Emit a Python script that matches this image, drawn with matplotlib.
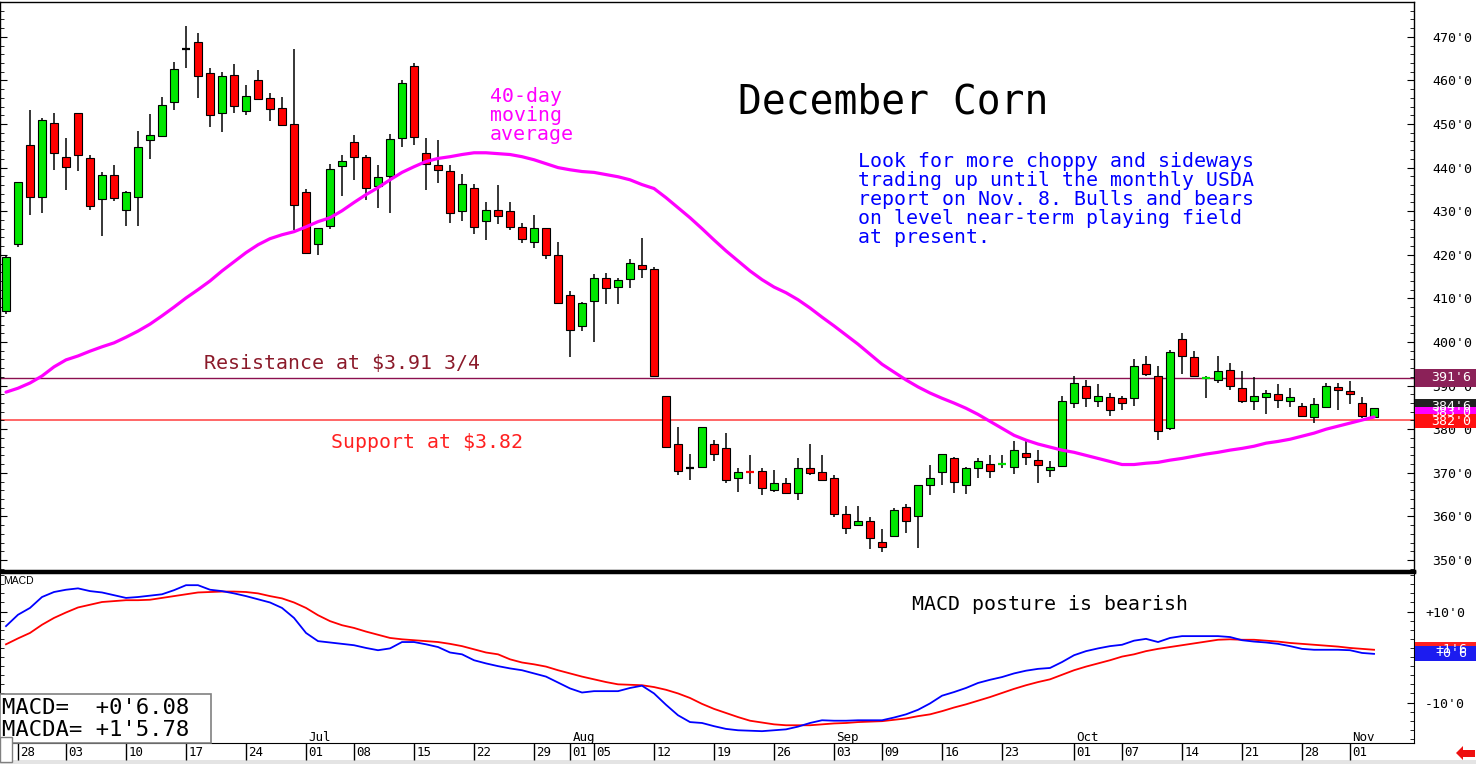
import matplotlib
matplotlib.use("Agg")
import matplotlib.pyplot as plt
import matplotlib.transforms as mtransforms
from matplotlib.patches import Rectangle, Polygon
from matplotlib.ticker import MultipleLocator, FixedLocator

# daily bars, index 0 = May 28 2019 (first, partly hidden bar is May 24)
opens = [
    407.1, 422.5, 445.2, 433.3, 450.3, 442.5, 452.6, 442.2, 432.8, 438.2,
    430.3, 433.3, 446.4, 447.3, 455.1, 467.3, 468.7, 461.8, 452.6, 461.3,
    453.0, 460.1, 456.0, 453.7, 450.0, 434.4, 422.5, 426.6, 440.4, 445.9,
    442.5, 435.8, 438.1, 446.8, 463.2, 443.4, 440.6, 439.2, 430.0, 435.3,
    427.7, 430.3, 430.0, 426.4, 422.9, 426.1, 419.9, 410.7, 403.6, 409.4,
    414.6, 412.6, 414.4, 417.6, 416.7, 387.6, 376.5, 371.0, 371.4, 376.5,
    375.8, 368.7, 370.3, 370.5, 366.1, 367.7, 365.4, 371.0, 370.3, 368.9,
    360.6, 358.1, 359.0, 354.2, 355.6, 362.2, 360.2, 367.1, 370.3, 373.5,
    367.3, 371.0, 372.1, 371.9, 371.4, 374.6, 373.0, 370.7, 371.5, 386.1,
    390.0, 386.4, 387.5, 387.1, 387.1, 394.9, 392.1, 380.2, 400.6, 396.5,
    391.6, 391.2, 393.5, 389.4, 386.4, 387.3, 388.0, 386.4, 385.4, 382.9,
    385.2, 389.6, 388.7, 386.1, 382.7,
]
highs = [
    420.0, 436.7, 453.3, 451.3, 452.6, 446.7, 452.6, 443.0, 439.0, 440.7,
    434.7, 448.3, 452.2, 456.1, 464.3, 472.5, 470.8, 462.8, 461.9, 463.8,
    458.9, 462.3, 457.0, 456.1, 467.3, 435.1, 426.1, 440.9, 442.9, 447.4,
    442.9, 440.5, 447.7, 460.0, 464.1, 446.7, 446.4, 440.5, 438.5, 436.3,
    432.2, 436.1, 432.0, 427.3, 429.1, 426.1, 422.9, 411.7, 409.1, 415.6,
    415.8, 414.6, 419.1, 423.8, 417.2, 387.6, 380.5, 374.3, 380.4, 377.6,
    379.2, 371.0, 374.0, 371.0, 370.7, 368.7, 373.3, 376.6, 374.0, 369.6,
    362.5, 362.3, 359.8, 357.2, 362.0, 362.9, 367.1, 371.7, 374.2, 373.7,
    371.4, 373.3, 374.0, 374.0, 377.2, 377.2, 375.3, 372.6, 387.7, 392.2,
    391.2, 390.3, 388.4, 387.7, 396.0, 396.7, 394.4, 398.1, 402.0, 397.9,
    392.1, 396.7, 395.1, 393.3, 391.9, 388.9, 390.3, 389.4, 385.9, 387.1,
    390.7, 390.5, 391.0, 387.3, 384.75,
]
lows = [
    406.5, 421.7, 429.2, 429.7, 439.5, 434.8, 439.2, 430.2, 424.2, 432.3,
    426.5, 426.7, 442.0, 447.3, 453.3, 462.9, 455.9, 449.3, 448.1, 452.6,
    452.1, 455.8, 450.7, 449.5, 425.6, 420.2, 419.9, 425.9, 433.6, 437.1,
    432.6, 430.7, 429.6, 444.8, 445.1, 434.8, 436.5, 427.3, 427.7, 424.7,
    423.3, 427.1, 425.8, 422.8, 421.5, 419.0, 408.9, 396.6, 402.5, 400.1,
    408.7, 408.7, 412.3, 414.6, 392.1, 375.6, 369.5, 368.4, 371.0, 372.8,
    367.7, 365.7, 367.5, 365.0, 365.7, 365.2, 363.8, 369.6, 368.2, 359.8,
    356.0, 357.9, 352.6, 351.9, 355.3, 356.3, 352.8, 365.0, 367.1, 365.4,
    365.2, 368.9, 368.9, 371.0, 369.8, 371.7, 367.7, 369.1, 371.3, 384.8,
    385.0, 385.0, 383.1, 384.5, 385.4, 392.3, 377.6, 379.9, 392.6, 391.9,
    387.1, 390.7, 389.1, 385.9, 384.5, 383.4, 384.8, 385.2, 382.7, 381.5,
    384.8, 384.3, 385.7, 382.5, 382.7,
]
closes = [
    419.5, 436.7, 433.3, 451.0, 443.4, 440.2, 442.9, 431.3, 438.2, 433.0,
    434.4, 444.8, 447.5, 454.4, 462.5, 467.3, 461.1, 452.1, 460.9, 454.2,
    456.5, 455.8, 453.5, 449.7, 431.4, 420.4, 426.1, 439.7, 441.5, 442.5,
    435.3, 437.9, 446.6, 459.5, 447.1, 440.9, 439.5, 429.6, 436.3, 426.4,
    430.3, 428.9, 426.4, 423.6, 426.1, 419.9, 409.0, 402.7, 408.9, 414.6,
    412.3, 414.2, 418.1, 416.7, 392.1, 376.0, 370.5, 371.0, 380.4, 374.2,
    368.4, 370.3, 370.2, 366.6, 367.7, 365.4, 371.2, 370.0, 368.4, 360.6,
    357.4, 359.0, 355.1, 353.0, 361.5, 359.0, 367.1, 368.7, 374.2, 368.0,
    371.2, 372.6, 370.5, 372.0, 375.3, 373.7, 371.7, 371.4, 386.4, 390.7,
    387.1, 387.7, 384.5, 386.1, 394.4, 392.6, 379.5, 397.6, 396.7, 392.3,
    391.7, 393.3, 390.0, 386.4, 387.7, 388.2, 386.6, 387.3, 383.1, 385.7,
    390.0, 389.1, 388.0, 383.1, 384.75,
]

# 40-day moving average
ma40 = [
    388.5, 389.4, 390.6, 392.2, 394.3, 395.9, 396.8, 397.9, 398.9, 399.8,
    401.1, 402.5, 404.1, 406.0, 408.0, 410.1, 412.0, 414.0, 416.3, 418.4,
    420.5, 422.3, 423.7, 424.6, 425.3, 426.4, 427.6, 428.5, 430.1, 432.0,
    433.8, 435.4, 437.2, 438.9, 440.2, 441.4, 442.1, 442.5, 443.0, 443.4,
    443.4, 443.2, 443.0, 442.5, 441.8, 440.9, 440.0, 439.5, 439.1, 438.9,
    438.4, 437.9, 437.2, 436.1, 435.2, 433.1, 430.8, 428.5, 426.0, 423.4,
    420.9, 418.6, 416.3, 414.3, 412.6, 411.3, 409.7, 407.8, 405.7, 403.7,
    401.6, 399.5, 397.2, 394.9, 393.1, 391.3, 389.7, 388.3, 387.1, 386.0,
    384.8, 383.4, 381.8, 380.2, 378.6, 377.5, 376.6, 375.9, 375.2, 374.7,
    374.0, 373.3, 372.6, 371.9, 371.9, 372.2, 372.4, 372.9, 373.3, 373.8,
    374.3, 374.7, 375.2, 375.6, 376.1, 376.8, 377.2, 377.7, 378.4, 379.1,
    380.0, 380.7, 381.4, 382.1, 382.8,
]

macd = [
    6.8, 9.3, 10.8, 13.2, 14.3, 14.8, 15.1, 14.5, 14.2, 13.6,
    13.0, 13.2, 13.5, 13.8, 14.7, 15.8, 15.8, 14.8, 14.5, 14.0,
    13.4, 12.7, 12.0, 10.8, 8.6, 5.3, 3.5, 3.2, 2.9, 2.6,
    2.0, 1.5, 1.9, 3.3, 3.3, 2.8, 2.2, 1.0, 0.6, -0.7,
    -1.4, -2.0, -2.5, -2.9, -3.6, -4.3, -5.6, -6.9, -7.8, -7.5,
    -7.5, -7.5, -6.8, -6.3, -8.0, -10.5, -12.8, -14.3, -14.5, -15.2,
    -15.8, -16.1, -16.2, -16.3, -16.1, -15.9, -15.3, -14.5, -13.9, -14.0,
    -14.0, -13.9, -13.9, -13.9, -13.3, -12.6, -11.6, -10.2, -8.5, -7.7,
    -6.8, -5.7, -5.0, -4.4, -3.6, -3.0, -2.6, -2.4, -1.1, 0.4,
    1.3, 1.9, 2.4, 2.7, 3.6, 4.0, 3.3, 4.2, 4.6, 4.6,
    4.6, 4.6, 4.4, 3.7, 3.4, 3.2, 2.9, 2.4, 1.8, 1.6,
    1.6, 1.6, 1.5, 0.9, 0.7,
]
macd_avg = [
    2.8, 4.1, 5.3, 7.1, 8.6, 9.8, 10.9, 11.5, 12.1, 12.3,
    12.5, 12.5, 12.6, 13.0, 13.4, 13.8, 14.2, 14.3, 14.4, 14.4,
    14.3, 14.0, 13.4, 12.9, 12.0, 10.8, 9.2, 7.9, 7.0, 6.4,
    5.6, 4.9, 4.2, 3.9, 3.7, 3.5, 3.3, 2.9, 2.4, 1.7,
    1.0, 0.6, -0.5, -1.2, -1.6, -2.1, -2.9, -3.6, -4.3, -4.9,
    -5.5, -6.0, -6.1, -6.2, -6.6, -7.2, -8.0, -9.0, -10.3, -11.4,
    -12.3, -13.2, -14.0, -14.4, -14.8, -15.0, -15.0, -15.0, -14.8, -14.6,
    -14.5, -14.3, -14.2, -14.1, -13.8, -13.5, -13.0, -12.6, -11.9, -11.1,
    -10.4, -9.6, -8.8, -7.9, -7.0, -6.2, -5.5, -4.9, -3.9, -2.9,
    -2.1, -1.4, -0.7, 0.1, 0.6, 1.3, 1.8, 2.2, 2.6, 3.0,
    3.4, 3.8, 3.9, 3.8, 3.8, 3.6, 3.4, 3.1, 2.9, 2.7,
    2.5, 2.3, 2.0, 1.8, 1.6,
]

day_ticks = [0, 4, 9, 14, 19, 24, 28, 33, 38, 43, 46, 48, 53, 58, 63,
             68, 72, 77, 82, 88, 92, 97, 102, 107, 111]
day_labels = ["28", "03", "10", "17", "24", "01", "08", "15", "22", "29",
              "01", "05", "12", "19", "26", "03", "09", "16", "23", "01",
              "07", "14", "21", "28", "01"]
month_ticks = [24, 46, 68, 88, 111]
month_labels = ["Jul", "Aug", "Sep", "Oct", "Nov"]

resistance = 391.75
support = 382.0

W, H = 1476, 764
MONO = "DejaVu Sans Mono"


def fx(px):
    return px / W


def fy(py):
    return 1 - py / H


x = list(range(-1, len(closes) - 1))

fig = plt.figure(figsize=(W / 100, H / 100), dpi=100)
fig.patch.set_facecolor("white")

ax = fig.add_axes([0, fy(571), fx(1414), fy(2) - fy(571)])
axm = fig.add_axes([0, fy(743), fx(1414), fy(572) - fy(743)], sharex=ax)

# candles
for xi, o, h, l, c in zip(x, opens, highs, lows, closes):
    ax.vlines(xi, l, h, color="black", lw=1.1, zorder=2)
    if abs(c - o) < 0.15:
        col = "black" if c == o else ("#00e000" if c > o else "#ff0000")
        ax.hlines(c, xi - 0.35, xi + 0.35, color=col, lw=1.6, zorder=3)
    else:
        col = "#00e600" if c > o else "#ff0000"
        ax.add_patch(Rectangle((xi - 0.32, min(o, c)), 0.64, abs(c - o),
                               facecolor=col, edgecolor="black", lw=0.8, zorder=3))

ax.plot(x, ma40, color="#ff00ff", lw=2.3, zorder=4, solid_capstyle="round")
ax.axhline(resistance, color="#8b1050", lw=1.0, zorder=1)
ax.axhline(support, color="#ff5a5a", lw=1.3, zorder=1)

ax.set_xlim(-1.5, 116.33)
ax.set_ylim(347.48, 477.98)
ax.yaxis.set_major_locator(MultipleLocator(10))
ax.yaxis.set_minor_locator(MultipleLocator(2))
ax.yaxis.set_major_formatter(lambda v, p: f"{int(round(v))}'0")
ax.tick_params(axis="y", which="both", direction="in", left=True, right=True,
               labelleft=False, labelright=True, pad=13)
ax.tick_params(axis="y", which="major", length=5)
ax.tick_params(axis="y", which="minor", length=3)
ax.tick_params(axis="x", which="both", bottom=False, labelbottom=False)
for lab in ax.get_yticklabels():
    lab.set_fontfamily(MONO)
    lab.set_fontsize(9.5)
for s in ax.spines.values():
    s.set_linewidth(1.0)
ax.spines["bottom"].set_linewidth(2.5)

# MACD panel
axm.plot(x, macd_avg, color="#ff0000", lw=1.3)
axm.plot(x, macd, color="#0000ff", lw=1.3)
axm.set_ylim(-18.9, 18.7)
axm.yaxis.set_major_locator(FixedLocator([-10, 10]))
axm.yaxis.set_minor_locator(MultipleLocator(2))
axm.yaxis.set_major_formatter(lambda v, p: f"{int(v):+d}'0")
axm.tick_params(axis="y", which="both", direction="in", left=True, right=True,
                labelleft=False, labelright=True, pad=8)
axm.tick_params(axis="y", which="major", length=5)
axm.tick_params(axis="y", which="minor", length=3)
for lab in axm.get_yticklabels():
    lab.set_fontfamily(MONO)
    lab.set_fontsize(9.5)
axm.spines["top"].set_linewidth(2.5)

axm.set_xticks(day_ticks)
axm.set_xticklabels([])
axm.tick_params(axis="x", which="major", direction="out", length=12.5,
                width=1.0, color="black")
tr_day = mtransforms.blended_transform_factory(axm.transData, axm.transAxes)
for t, lab in zip(day_ticks, day_labels):
    axm.text(t + 0.2, -0.053, lab, transform=tr_day, ha="left", va="center",
             fontsize=9, family=MONO, clip_on=False)
for t, lab in zip(month_ticks, month_labels):
    axm.text(t + 0.2, 0.035, lab, transform=tr_day, ha="left", va="center",
             fontsize=9, family=MONO)
axm.text(0.002, 0.947, "MACD", transform=axm.transAxes, fontsize=7.5,
         family="Liberation Sans", va="center")

# annotations
fig.text(fx(738), fy(102), "December Corn", fontsize=28.5, family=MONO, va="center")
fig.text(fx(858), fy(152),
         "Look for more choppy and sideways\n"
         "trading up until the monthly USDA\n"
         "report on Nov. 8. Bulls and bears\n"
         "on level near-term playing field\n"
         "at present.",
         fontsize=14.3, family=MONO, color="#0000ff", va="top", linespacing=1.0)
fig.text(fx(490), fy(87), "40-day\nmoving\naverage", fontsize=14.3, family=MONO,
         color="#ff00ff", va="top", linespacing=1.0)
fig.text(fx(204), fy(363), "Resistance at $3.91 3/4", fontsize=14.3, family=MONO,
         color="#8b1a2a", va="center")
fig.text(fx(331), fy(442), "Support at $3.82", fontsize=14.3, family=MONO,
         color="#ff2020", va="center")
fig.text(fx(912), fy(604), "MACD posture is bearish", fontsize=14.3, family=MONO,
         va="center")


def tag(axis, val, h, text, face):
    tr = mtransforms.blended_transform_factory(fig.transFigure, axis.transData)
    fig.add_artist(Rectangle((fx(1415), val - h / 2), fx(1476) - fx(1415), h,
                             transform=tr, facecolor=face, edgecolor="none", zorder=5))
    fig.text(fx(1451), val, text, transform=tr, color="white", fontsize=9.5,
             family=MONO, ha="center", va="center", zorder=6)


tag(ax, resistance, 4.1, "391'6", "#8b2158")
tag(ax, 385.3, 3.2, "384'6", "#202020")
tag(ax, 383.9, 2.6, "383'0", "#ff00ff")
tag(ax, 381.8, 3.2, "382'0", "#ff1010")
tag(axm, 1.75, 3.2, "+1'6", "#ff2020")
tag(axm, 0.8, 3.2, "+0'6", "#1c1cf0")

# value box
fig.add_artist(Rectangle((0, fy(743)), fx(211), fy(694) - fy(743), transform=fig.transFigure,
                         facecolor="white", edgecolor="#808080", lw=1.2, zorder=5))
fig.text(fx(2), fy(708), "MACD=  +0'6.08", fontsize=16, family=MONO, va="center", zorder=6)
fig.text(fx(2), fy(730), "MACDA= +1'5.78", fontsize=16, family=MONO, va="center", zorder=6)
fig.add_artist(Rectangle((0, fy(762)), fx(12), fy(737) - fy(762), transform=fig.transFigure,
                         facecolor="white", edgecolor="#808080", lw=1.0, zorder=5))

# bottom strip and arrow
fig.add_artist(Rectangle((0, 0), 1, fy(760), transform=fig.transFigure,
                         facecolor="#e4e4e4", edgecolor="none", zorder=0))
arrow = [(1456, 753), (1463, 746), (1463, 750), (1475, 750), (1475, 757), (1463, 757), (1463, 760)]
fig.add_artist(Polygon([(fx(a), fy(b)) for a, b in arrow], closed=True,
                       transform=fig.transFigure, facecolor="#ee1010", edgecolor="none"))

fig.savefig("out.png", dpi=100)
